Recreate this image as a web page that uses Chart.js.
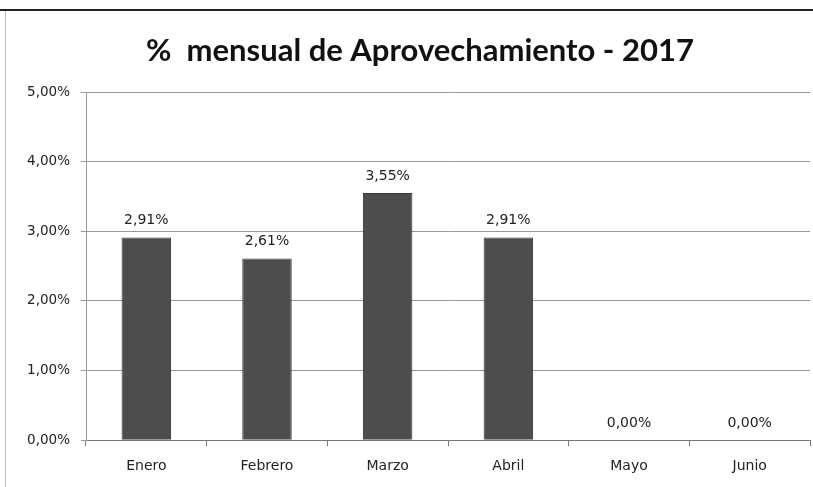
<!DOCTYPE html>
<html>
<head>
<meta charset="utf-8">
<script src="https://cdn.jsdelivr.net/npm/chart.js@4/dist/chart.umd.min.js"></script>
<style>
  html, body { margin: 0; padding: 0; background: #fff; }
  canvas { display: block; }
</style>
</head>
<body>
<canvas id="myChart" width="813" height="487"></canvas>
<script>
// data
const months = ['Enero', 'Febrero', 'Marzo', 'Abril', 'Mayo', 'Junio']
const aprovechamiento = [2.91, 2.61, 3.55, 2.91, 0, 0]
const yTicks = [0, 1, 2, 3, 4, 5]
const chartTitle = '%  mensual de Aprovechamiento - 2017'

function pct(v) {
  return v.toFixed(2).replace('.', ',') + '%'
}

// scanned frame lines + white bg + title
const framePlugin = {
  id: 'frame',
  beforeDraw(chart) {
    let c = chart.ctx
    c.save()
    c.fillStyle = '#fff'
    c.fillRect(0, 0, chart.width, chart.height)
    c.fillStyle = '#222'
    c.fillRect(0, 9, chart.width, 2)
    c.fillStyle = '#bbb'
    c.fillRect(5, 11, 1, chart.height - 11)
    // title sits a bit left of the plot centre, like the original
    c.font = 'bold 31px Lato'
    c.fillStyle = '#111'
    c.textAlign = 'center'
    c.textBaseline = 'middle'
    c.fillText(chartTitle, 420, 51)
    c.restore()
  }
}

// value labels over bars
const labelPlugin = {
  id: 'valueLabels',
  afterDatasetsDraw(chart) {
    let c = chart.ctx
    let meta = chart.getDatasetMeta(0)
    c.save()
    c.font = '14px "DejaVu Sans"'
    c.fillStyle = '#222'
    c.textAlign = 'center'
    c.textBaseline = 'middle'
    meta.data.forEach((bar, i) => {
      c.fillText(pct(aprovechamiento[i]), bar.x, bar.y - 17)
    })
    c.restore()
  }
}

let ctx = document.getElementById('myChart').getContext('2d')
let graph = new Chart(ctx, {
  type: 'bar',
  data: {
    labels: months,
    datasets: [{
      data: aprovechamiento,
      backgroundColor: '#4d4d4d',
      borderColor: '#3a3a3a',
      borderWidth: 1,
      barPercentage: 0.41,
      categoryPercentage: 1
    }]
  },
  options: {
    responsive: false,
    animation: false,
    layout: { padding: { top: 92, left: 0, right: 3, bottom: 0 } },
    plugins: {
      legend: { display: false },
      tooltip: { enabled: false },
      title: { display: false }
    },
    scales: {
      x: {
        offset: true,
        grid: {
          offset: true,
          drawOnChartArea: false,
          drawTicks: true,
          tickLength: 6,
          color: '#777'
        },
        border: { color: '#777' },
        ticks: {
          color: '#222',
          padding: 12,
          font: { family: 'DejaVu Sans', size: 14 }
        }
      },
      y: {
        min: 0,
        max: 5,
        afterFit(scale) { scale.width = 86 },
        afterBuildTicks(scale) { scale.ticks = yTicks.map(v => ({ value: v })) },
        grid: { color: '#999', tickLength: 5 },
        border: { color: '#999' },
        ticks: {
          color: '#222',
          padding: 11,
          font: { family: 'DejaVu Sans', size: 13.5 },
          callback: v => pct(v)
        }
      }
    }
  },
  plugins: [framePlugin, labelPlugin]
})
</script>
</body>
</html>
